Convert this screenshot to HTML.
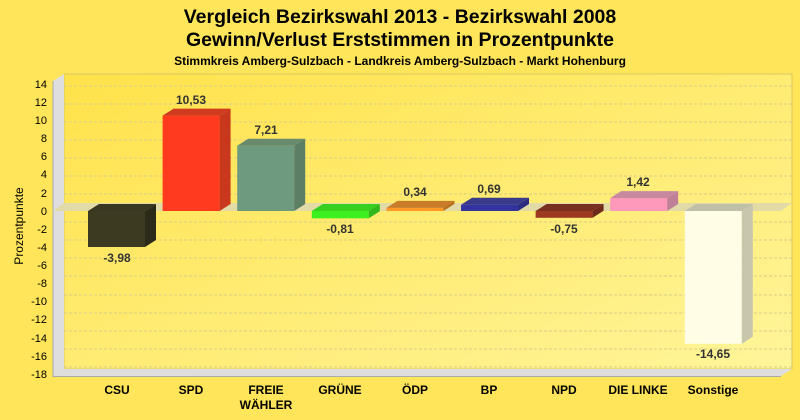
<!DOCTYPE html>
<html><head><meta charset="utf-8"><style>
body{margin:0;background:#ffe55a;}
svg{display:block;font-family:"Liberation Sans",sans-serif;}
</style></head><body>
<svg width="800" height="420" viewBox="0 0 800 420">
<defs>
<linearGradient id="bg" x1="0" y1="0" x2="1" y2="1">
<stop offset="0" stop-color="#ffe24a"/><stop offset="1" stop-color="#fff59a"/>
</linearGradient>
</defs>
<rect width="800" height="420" fill="#ffe55a"/>
<text x="400" y="23" text-anchor="middle" font-size="19.5" font-weight="bold">Vergleich Bezirkswahl 2013 - Bezirkswahl 2008</text>
<text x="400" y="46" text-anchor="middle" font-size="19.5" font-weight="bold">Gewinn/Verlust Erststimmen in Prozentpunkte</text>
<text x="400" y="65" text-anchor="middle" font-size="12" font-weight="bold">Stimmkreis Amberg-Sulzbach - Landkreis Amberg-Sulzbach - Markt Hohenburg</text>
<rect x="64" y="74" width="728" height="295" fill="url(#bg)" stroke="#d8c860" stroke-width="1"/>
<polygon points="53,81 64,74 64,369 53,376" fill="#dedede"/>
<polygon points="53,376 64,369 792,369 781,376" fill="#dedede"/>
<line x1="53" y1="81" x2="53" y2="377" stroke="#aaa"/>
<line x1="53" y1="376.5" x2="781" y2="376.5" stroke="#aaa"/>
<g stroke="#d8cc88" stroke-dasharray="3,2" stroke-width="1">
<line x1="64" x2="792" y1="86" y2="86"/><line x1="64" x2="792" y1="104" y2="104"/>
<line x1="64" x2="792" y1="122" y2="122"/><line x1="64" x2="792" y1="140" y2="140"/>
<line x1="64" x2="792" y1="158" y2="158"/><line x1="64" x2="792" y1="176" y2="176"/>
<line x1="64" x2="792" y1="194" y2="194"/><line x1="64" x2="792" y1="222" y2="222"/>
<line x1="64" x2="792" y1="240" y2="240"/><line x1="64" x2="792" y1="258" y2="258"/>
<line x1="64" x2="792" y1="276" y2="276"/><line x1="64" x2="792" y1="295" y2="295"/>
<line x1="64" x2="792" y1="313" y2="313"/><line x1="64" x2="792" y1="331" y2="331"/>
<line x1="64" x2="792" y1="349" y2="349"/><line x1="64" x2="792" y1="367" y2="367"/>
</g>
<polygon points="53,211 64,203 792,203 781,211" fill="#e2dba8"/>
<g font-size="11" text-anchor="end">
<text x="47" y="88">14</text><text x="47" y="106">12</text><text x="47" y="124">10</text>
<text x="47" y="142">8</text><text x="47" y="160">6</text><text x="47" y="178">4</text>
<text x="47" y="197">2</text><text x="47" y="215">0</text><text x="47" y="233">-2</text>
<text x="47" y="251">-4</text><text x="47" y="269">-6</text><text x="47" y="287">-8</text>
<text x="47" y="305">-10</text><text x="47" y="323">-12</text><text x="47" y="342">-14</text>
<text x="47" y="360">-16</text><text x="47" y="378">-18</text>
</g>
<text transform="translate(23,226) rotate(-90)" text-anchor="middle" font-size="12">Prozentpunkte</text>
<g>
<rect x="88" y="211" width="57" height="36" fill="#3d3a22"/>
<polygon points="88,211 99,204 156,204 145,211" fill="#3a3720"/>
<polygon points="145,211 156,204 156,240 145,247" fill="#2c2a18"/>
<rect x="162.6" y="115.6" width="57" height="95.4" fill="#ff3a1e"/>
<polygon points="162.6,115.6 173.6,108.6 230.6,108.6 219.6,115.6" fill="#d03a1e"/>
<polygon points="219.6,115.6 230.6,108.6 230.6,204 219.6,211" fill="#c8381c"/>
<rect x="237.2" y="145.7" width="57" height="65.3" fill="#6e9a80"/>
<polygon points="237.2,145.7 248.2,138.7 305.2,138.7 294.2,145.7" fill="#6a8a6e"/>
<polygon points="294.2,145.7 305.2,138.7 305.2,204 294.2,211" fill="#5c7e64"/>
<rect x="311.8" y="211" width="57" height="7.3" fill="#3cf020"/>
<polygon points="311.8,211 322.8,204 379.8,204 368.8,211" fill="#38d020"/>
<polygon points="368.8,211 379.8,204 379.8,211.3 368.8,218.3" fill="#30b81c"/>
<rect x="386.4" y="207.9" width="57" height="3.1" fill="#ff9a28"/>
<polygon points="386.4,207.9 397.4,200.9 454.4,200.9 443.4,207.9" fill="#c87c28"/>
<polygon points="443.4,207.9 454.4,200.9 454.4,204 443.4,211" fill="#b87020"/>
<rect x="461" y="204.7" width="57" height="6.3" fill="#3434a0"/>
<polygon points="461,204.7 472,197.7 529,197.7 518,204.7" fill="#3a3a8a"/>
<polygon points="518,204.7 529,197.7 529,204 518,211" fill="#2c2c80"/>
<rect x="535.6" y="211" width="57" height="6.8" fill="#9c3a20"/>
<polygon points="535.6,211 546.6,204 603.6,204 592.6,211" fill="#7a3020"/>
<polygon points="592.6,211 603.6,204 603.6,210.8 592.6,217.8" fill="#6e2a1a"/>
<rect x="610.2" y="198.1" width="57" height="12.9" fill="#ff99bb"/>
<polygon points="610.2,198.1 621.2,191.1 678.2,191.1 667.2,198.1" fill="#c888a0"/>
<polygon points="667.2,198.1 678.2,191.1 678.2,204 667.2,211" fill="#c08098"/>
<rect x="684.8" y="211" width="57" height="132.8" fill="#fffde6"/>
<polygon points="684.8,211 695.8,204 752.8,204 741.8,211" fill="#c0bfa8"/>
<polygon points="741.8,211 752.8,204 752.8,336.8 741.8,343.8" fill="#c8c6ac"/>
</g>
<g font-size="12" font-weight="bold" text-anchor="middle" fill="#333">
<text x="117" y="262">-3,98</text>
<text x="191" y="104">10,53</text>
<text x="266" y="134">7,21</text>
<text x="340" y="233">-0,81</text>
<text x="415" y="196">0,34</text>
<text x="489" y="193">0,69</text>
<text x="564" y="233">-0,75</text>
<text x="638" y="186">1,42</text>
<text x="713" y="358">-14,65</text>
</g>
<g font-size="12" font-weight="bold" text-anchor="middle">
<text x="117" y="394">CSU</text>
<text x="191" y="394">SPD</text>
<text x="266" y="394">FREIE</text><text x="266" y="409">WÄHLER</text>
<text x="340" y="394">GRÜNE</text>
<text x="415" y="394">ÖDP</text>
<text x="489" y="394">BP</text>
<text x="564" y="394">NPD</text>
<text x="638" y="394">DIE LINKE</text>
<text x="713" y="394">Sonstige</text>
</g>
</svg>
</body></html>
